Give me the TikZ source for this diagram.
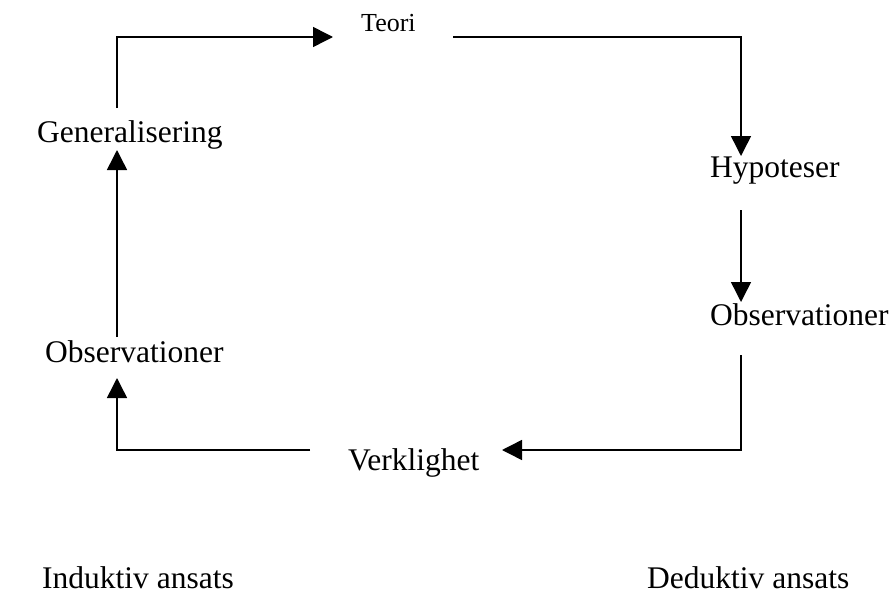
\documentclass[tikz,border=0pt]{standalone}
\usepackage{fontspec}
\setmainfont{Liberation Serif}
\usetikzlibrary{arrows.meta}
\begin{document}
\begin{tikzpicture}[x=1pt,y=-1pt,
  lbl/.style={inner sep=0pt, anchor=base west, font=\fontsize{31.5}{36}\selectfont},
  smalllbl/.style={inner sep=0pt, anchor=base west, font=\fontsize{26}{30}\selectfont},
  conn/.style={line width=1.5pt, -{Triangle[length=20pt,width=20pt]}}]
\path[use as bounding box] (0,0) rectangle (891,594);
\node[smalllbl] (teori) at (361,32) {Teori};
\node[lbl] (gen) at (37,142) {Generalisering};
\node[lbl] (hyp) at (710,177) {Hypoteser};
\node[lbl] (obsr) at (710,325) {Observationer};
\node[lbl] (obsl) at (45,362) {Observationer};
\node[lbl] (verk) at (348,470) {Verklighet};
\node[lbl] (ind) at (42,588) {Induktiv ansats};
\node[lbl] (ded) at (647,588) {Deduktiv ansats};
% connectors
\draw[conn] ([xshift=80pt,yshift=34pt]gen.base west) |- ([xshift=-28pt,yshift=-5pt]teori.base west);
\draw[conn] ([xshift=92pt,yshift=-5pt]teori.base west) -| ([xshift=31pt,yshift=21pt]hyp.base west);
\draw[conn] ([xshift=31pt,yshift=-33pt]hyp.base west) -- ([xshift=31pt,yshift=23pt]obsr.base west);
\draw[conn] ([xshift=31pt,yshift=-30pt]obsr.base west) |- ([xshift=154pt,yshift=20pt]verk.base west);
\draw[conn] ([xshift=-38pt,yshift=20pt]verk.base west) -| ([xshift=72pt,yshift=-16pt]obsl.base west);
\draw[conn] ([xshift=72pt,yshift=25pt]obsl.base west) -- ([xshift=80pt,yshift=-8pt]gen.base west);
\end{tikzpicture}
\end{document}
